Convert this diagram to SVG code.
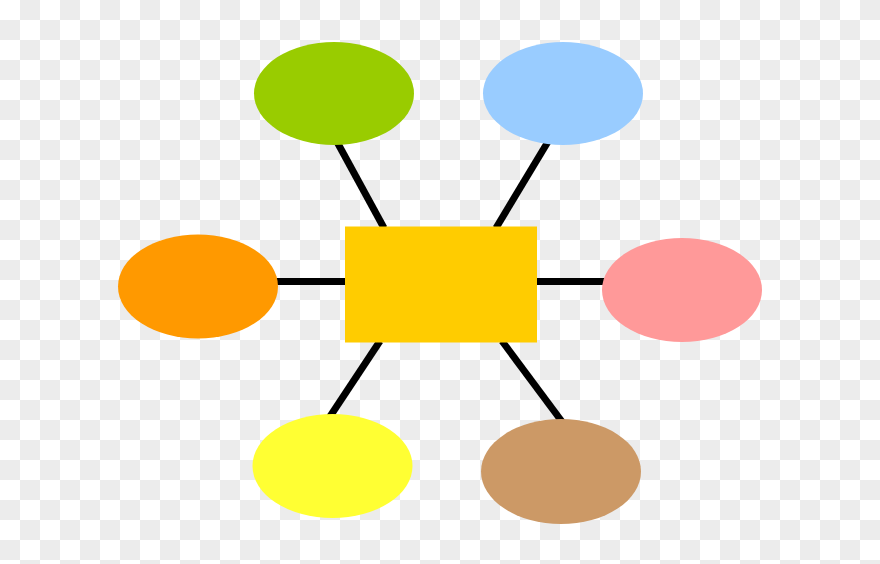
<svg xmlns="http://www.w3.org/2000/svg" width="880" height="564" viewBox="0 0 880 564">
  <defs>
    <pattern id="checker" x="0" y="0" width="40" height="40" patternUnits="userSpaceOnUse">
      <rect width="40" height="40" fill="#ffffff"/>
      <rect x="20" y="0" width="20" height="20" fill="#ececec"/>
      <rect x="0" y="20" width="20" height="20" fill="#ececec"/>
    </pattern>
  </defs>
  <style>
    .conn { stroke: #000000; stroke-width: 7; fill: none; stroke-linecap: butt; }
    .node { stroke: none; }
  </style>
  <rect id="background" x="0" y="0" width="880" height="564" fill="url(#checker)"/>
  <g id="connectors">
    <line class="conn" x1="336" y1="140" x2="384" y2="228"/>
    <line class="conn" x1="549" y1="140" x2="496" y2="228"/>
    <line class="conn" x1="275" y1="281.5" x2="347" y2="281.5"/>
    <line class="conn" x1="535" y1="281.5" x2="606" y2="281.5"/>
    <line class="conn" x1="380" y1="341" x2="329" y2="418"/>
    <line class="conn" x1="502" y1="341" x2="563" y2="423"/>
  </g>
  <g id="center">
    <rect class="node" x="345" y="226.5" width="192" height="116" fill="#ffcc00"/>
  </g>
  <g id="node-green">
    <ellipse class="node" cx="334" cy="93.5" rx="80" ry="51.5" fill="#99cc00"/>
  </g>
  <g id="node-blue">
    <ellipse class="node" cx="563" cy="93.5" rx="80" ry="51.5" fill="#99ccff"/>
  </g>
  <g id="node-orange">
    <ellipse class="node" cx="198" cy="286.5" rx="80" ry="52" fill="#ff9900"/>
  </g>
  <g id="node-pink">
    <ellipse class="node" cx="682" cy="290" rx="80" ry="52" fill="#ff9999"/>
  </g>
  <g id="node-yellow">
    <ellipse class="node" cx="332.5" cy="466" rx="80" ry="52" fill="#ffff33"/>
  </g>
  <g id="node-brown">
    <ellipse class="node" cx="561" cy="471.5" rx="80" ry="52.5" fill="#cc9966"/>
  </g>
</svg>
